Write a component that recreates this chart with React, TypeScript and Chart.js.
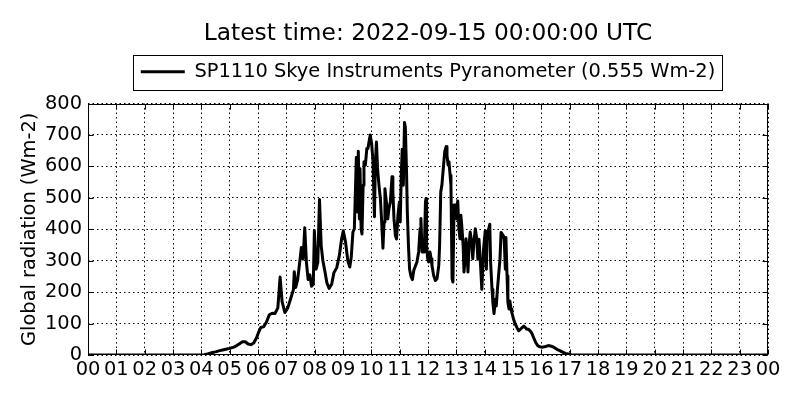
import React, { useEffect, useRef } from "react";
import { Chart, registerables } from "chart.js";

Chart.register(...registerables);

const TITLE = "Latest time: 2022-09-15 00:00:00 UTC";
const SERIES_LABEL = "SP1110 Skye Instruments Pyranometer (0.555 Wm-2)";
const Y_LABEL = "Global radiation (Wm-2)";

const xTickLabels = [
  "00", "01", "02", "03", "04", "05", "06", "07", "08", "09", "10", "11", "12",
  "13", "14", "15", "16", "17", "18", "19", "20", "21", "22", "23", "00",
];
const yTickValues = [0, 100, 200, 300, 400, 500, 600, 700, 800];

// time of day (hours, UTC)
const hours = [
  0, 4.0, 4.1, 4.25, 4.4, 4.5, 4.65, 4.75, 4.9, 5.0, 5.15, 5.25, 5.35, 5.45, 5.55, 5.65, 5.75, 5.85, 5.95, 6.02, 6.1, 6.2, 6.3, 6.4, 6.5, 6.6, 6.7, 6.78, 6.85, 6.95,
  7.05, 7.15, 7.25, 7.28, 7.33, 7.4, 7.47, 7.53, 7.59, 7.65, 7.71, 7.77, 7.83, 7.89, 7.95, 7.99, 8.05, 8.11, 8.17, 8.23, 8.29, 8.37, 8.43, 8.51, 8.6, 8.68, 8.78, 8.87, 8.95,
  9.01, 9.09, 9.17, 9.24, 9.29, 9.35, 9.4, 9.45, 9.47, 9.51, 9.54, 9.58, 9.6, 9.64, 9.67, 9.71, 9.74, 9.79, 9.84, 9.88, 9.92, 9.96,
  10.01, 10.06, 10.08, 10.11, 10.14, 10.18, 10.22, 10.27, 10.32, 10.36, 10.41, 10.45, 10.48, 10.53, 10.58, 10.62, 10.67, 10.73, 10.76, 10.8, 10.85, 10.89, 10.94, 10.99,
  11.02, 11.06, 11.09, 11.13, 11.17, 11.2, 11.24, 11.27, 11.31, 11.35, 11.4, 11.45, 11.5, 11.56, 11.61, 11.67, 11.72, 11.75, 11.79, 11.82, 11.87, 11.91, 11.93, 11.95, 11.99,
  12.02, 12.07, 12.11, 12.14, 12.2, 12.26, 12.32, 12.38, 12.41, 12.45, 12.49, 12.54, 12.59, 12.64, 12.67, 12.71, 12.74, 12.78, 12.81, 12.85, 12.88, 12.92, 12.95, 12.99,
  13.02, 13.05, 13.09, 13.13, 13.16, 13.2, 13.24, 13.27, 13.31, 13.34, 13.38, 13.41, 13.45, 13.49, 13.54, 13.58, 13.62, 13.67, 13.72, 13.76, 13.8, 13.85, 13.9, 13.96,
  14.02, 14.06, 14.09, 14.14, 14.18, 14.21, 14.26, 14.29, 14.33, 14.38, 14.41, 14.45, 14.49, 14.54, 14.58, 14.61, 14.66, 14.69, 14.73, 14.75, 14.79, 14.82, 14.86, 14.89, 14.93, 14.96,
  15.02, 15.08, 15.14, 15.2, 15.26, 15.32, 15.38, 15.44, 15.49, 15.55, 15.62, 15.67, 15.73, 15.8, 15.87, 15.95, 16.05, 16.15, 16.25, 16.35, 16.45, 16.55, 16.65, 16.75, 16.85, 16.95, 17.05, 17.15, 24,
];

// global radiation (W m-2)
const radiation = [
  0, 0, 1, 4, 8, 10, 14, 16, 19, 21, 25, 30, 36, 42, 42, 35, 33, 38, 55, 72, 88, 90, 105, 128, 133, 132, 150, 248, 170, 135,
  150, 178, 208, 265, 215, 240, 294, 342, 305, 405, 294, 240, 255, 219, 225, 395, 273, 294, 495, 348, 300, 262, 230, 212, 225, 262, 278, 316, 369,
  395, 359, 300, 280, 310, 391, 401, 561, 628, 455, 648, 433, 593, 401, 385, 540, 615, 604, 657, 657, 679, 700,
  673, 615, 540, 440, 604, 678, 593, 540, 497, 433, 340, 423, 529, 487, 433, 465, 487, 567, 519, 433, 380, 369, 444, 487,
  423, 583, 655, 540, 740, 725, 593, 455, 348, 273, 250, 240, 270, 284, 296, 328, 402, 434, 328, 349, 328, 487, 498, 349, 306,
  296, 328, 306, 285, 253, 237, 243, 285, 349, 519, 540, 594, 647, 663, 636, 604, 615, 572, 540, 243, 232, 477, 466, 434,
  477, 490, 402, 370, 445, 402, 349, 264, 306, 370, 328, 264, 349, 391, 360, 306, 360, 402, 370, 305, 368, 294, 209, 336,
  395, 273, 390, 400, 416, 294, 209, 167, 132, 177, 156, 209, 252, 305, 390, 390, 379, 368, 273, 374, 252, 167, 146, 172, 146, 135,
  114, 98, 87, 77, 82, 87, 92, 87, 82, 82, 75, 68, 55, 40, 30, 26, 25, 27, 30, 28, 24, 18, 14, 9, 5, 3, 1, 0, 0,
];

const FAMILY = "'DejaVu Sans', sans-serif";
const baseFont = { family: FAMILY, size: 19.4, weight: "normal" as const };

const frameAndTicks = {
  id: "frameAndTicks",
  afterDraw(chart: any) {
    const { ctx, chartArea } = chart;
    const xs = chart.scales.x;
    const ys = chart.scales.y;
    ctx.save();
    ctx.strokeStyle = "#000";
    ctx.lineWidth = 1;
    const L = Math.round(chartArea.left) + 0.5;
    const R = Math.round(chartArea.right) - 0.5;
    const T = Math.round(chartArea.top) + 0.5;
    const B = Math.round(chartArea.bottom) - 0.5;
    ctx.beginPath();
    const tl = 5;
    yTickValues.forEach((v) => {
      const py = Math.round(ys.getPixelForValue(v)) + 0.5;
      ctx.moveTo(L, py);
      ctx.lineTo(L + tl, py);
      ctx.moveTo(R, py);
      ctx.lineTo(R - tl, py);
    });
    xTickLabels.forEach((_, i) => {
      const px = Math.round(xs.getPixelForValue(i)) + 0.5;
      ctx.moveTo(px, B);
      ctx.lineTo(px, B - tl);
      ctx.moveTo(px, T);
      ctx.lineTo(px, T + tl);
    });
    ctx.stroke();
    ctx.strokeRect(L, T, R - L, B - T);
    // legend frame
    const lg = chart.legend;
    if (lg && lg.legendHitBoxes && lg.legendHitBoxes.length) {
      const hb = lg.legendHitBoxes[0];
      const left = Math.round(hb.left - 8) + 0.5;
      const right = Math.round(hb.left + hb.width + 7) + 0.5;
      const cy = hb.top + hb.height / 2;
      const top = Math.round(cy - 17) + 0.5;
      const bottom = Math.round(cy + 18) + 0.5;
      ctx.strokeRect(left, top, right - left, bottom - top);
    }
    ctx.restore();
  },
};

export default function App() {
  const canvasRef = useRef<HTMLCanvasElement | null>(null);

  useEffect(() => {
    const canvas = canvasRef.current;
    if (!canvas) return;
    Chart.defaults.font.family = FAMILY;
    const chart = new Chart(canvas, {
      type: "line",
      data: {
        datasets: [
          {
            label: SERIES_LABEL,
            data: hours.map((h, i) => ({ x: h, y: radiation[i] })),
            borderColor: "#000",
            backgroundColor: "#000",
            borderWidth: 3,
            borderJoinStyle: "round",
            borderCapStyle: "butt",
            pointRadius: 0,
            pointHoverRadius: 0,
            tension: 0,
            fill: false,
          },
        ],
      },
      options: {
        responsive: false,
        animation: false,
        devicePixelRatio: 1,
        layout: { padding: { left: 0, right: 32, top: 0, bottom: 0 } },
        plugins: {
          title: {
            display: true,
            text: TITLE,
            color: "#000",
            fullSize: false,
            font: { family: FAMILY, size: 23.3, weight: "normal", lineHeight: 1.2 },
            padding: { top: 20, bottom: 8 },
          },
          legend: {
            display: true,
            position: "top",
            fullSize: false,
            weight: 1800,
            labels: {
              color: "#000",
              font: baseFont,
              usePointStyle: true,
              pointStyle: "line",
              pointStyleWidth: 44,
              padding: 6,
            },
          } as any,
          subtitle: {
            display: true,
            text: "",
            fullSize: false,
            font: { family: FAMILY, size: 10, lineHeight: 1 },
            padding: { top: 0, bottom: 2.2 },
          },
          tooltip: { enabled: false },
        },
        scales: {
          x: {
            type: "linear",
            min: 0,
            max: 24,
            ticks: {
              stepSize: 1,
              autoSkip: false,
              maxRotation: 0,
              minRotation: 0,
              padding: 3,
              color: "#000",
              font: baseFont,
              callback: (_v: any, i: number) => xTickLabels[i],
            },
            grid: { color: "#000", lineWidth: 1, drawTicks: false },
            border: { display: false, dash: [1.5, 3] },
            afterFit: (s: any) => {
              s.height = 45;
            },
          },
          y: {
            type: "linear",
            min: 0,
            max: 800,
            ticks: {
              stepSize: 100,
              padding: 6,
              color: "#000",
              font: baseFont,
            },
            title: {
              display: true,
              text: Y_LABEL,
              color: "#000",
              font: baseFont,
              padding: { top: 18, bottom: 0 },
            },
            grid: { color: "#000", lineWidth: 1, drawTicks: false },
            border: { display: false, dash: [1.5, 3] },
            afterFit: (s: any) => {
              s.width = 88;
            },
          },
        },
      },
      plugins: [frameAndTicks],
    } as any);
    return () => chart.destroy();
  }, []);

  return (
    <div style={{ position: "absolute", left: 0, top: 0, width: 800, height: 400, background: "#fff" }}>
      <canvas ref={canvasRef} width={800} height={400} style={{ display: "block", width: 800, height: 400 }} />
    </div>
  );
}
